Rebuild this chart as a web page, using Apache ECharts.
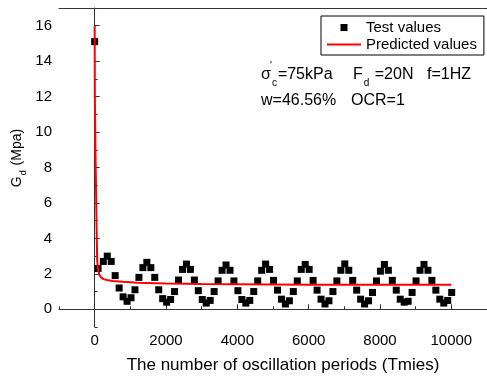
<!DOCTYPE html>
<html>
<head>
<meta charset="utf-8">
<script src="https://cdn.jsdelivr.net/npm/echarts@6/dist/echarts.min.js"></script>
<style>
  html, body { margin: 0; padding: 0; background: #fff; }
  #chart { width: 487px; height: 379px; }
</style>
</head>
<body>
<div id="chart"></div>
<script>
// Measured dynamic shear modulus (MPa) against number of loading cycles
const testCycles = [0, 95, 242, 353, 464, 575, 686, 797, 908, 1019, 1130,
  1241, 1352, 1463, 1574, 1685, 1796, 1907, 2018, 2129, 2240,
  2351, 2462, 2573, 2684, 2795, 2906, 3017, 3128, 3239, 3350,
  3461, 3572, 3683, 3794, 3905, 4016, 4127, 4238, 4349, 4460,
  4571, 4682, 4793, 4904, 5015, 5126, 5237, 5348, 5459, 5570,
  5681, 5792, 5903, 6014, 6125, 6236, 6347, 6458, 6569, 6680,
  6791, 6902, 7013, 7124, 7235, 7346, 7457, 7568, 7679, 7790,
  7901, 8012, 8123, 8234, 8345, 8456, 8567, 8678, 8789, 8900,
  9011, 9122, 9233, 9344, 9455, 9566, 9677, 9788, 9899, 10010];
const testModulus = [15.1, 2.3, 2.7, 3.0, 2.7, 1.9, 1.2, 0.7, 0.45, 0.65, 1.1,
  1.8, 2.35, 2.65, 2.35, 1.8, 1.1, 0.6, 0.4, 0.55, 1.0,
  1.65, 2.25, 2.55, 2.25, 1.65, 1.05, 0.55, 0.35, 0.5, 1.0,
  1.6, 2.2, 2.5, 2.2, 1.6, 1.05, 0.55, 0.35, 0.5, 1.0,
  1.6, 2.2, 2.55, 2.25, 1.63, 1.08, 0.57, 0.3, 0.48, 1.0,
  1.6, 2.25, 2.53, 2.25, 1.63, 1.08, 0.57, 0.3, 0.48, 1.0,
  1.6, 2.2, 2.56, 2.2, 1.63, 1.08, 0.57, 0.3, 0.48, 0.95,
  1.6, 2.15, 2.53, 2.2, 1.63, 1.08, 0.57, 0.4, 0.45, 0.95,
  1.6, 2.2, 2.53, 2.2, 1.63, 1.08, 0.57, 0.35, 0.5, 0.95];

// Fitted decay curve
const fitCycles = [0, 5, 12, 25, 40, 55, 70, 90, 130, 180, 250, 350, 500,
  800, 1200, 2000, 3000, 4000, 6000, 8000, 10000];
const fitModulus = [16.0, 12.0, 10.9, 8.5, 6.6, 4.5, 2.8, 2.3, 1.95, 1.8, 1.7, 1.65, 1.6,
  1.55, 1.5, 1.45, 1.42, 1.41, 1.39, 1.38, 1.38];

// Axis tick labels
const xLabelValues = [0, 2000, 4000, 6000, 8000, 10000];
const yLabelValues = [0, 2, 4, 6, 8, 10, 12, 14, 16];

const FONT = 'Arial, "Liberation Sans", sans-serif';
const AXIS_COLOR = '#333';

const chart = echarts.init(document.getElementById('chart'), null, { renderer: 'canvas' });

const toPairs = (xs, ys) => xs.map((x, i) => [x, ys[i]]);

chart.setOption({
  animation: false,
  backgroundColor: '#fff',
  grid: { left: 59, top: 8, right: -2, bottom: 50, containLabel: false },
  legend: {
    orient: 'vertical',
    left: 321,
    top: 16,
    borderColor: '#000',
    borderWidth: 1,
    borderRadius: 0,
    padding: [4, 7, 3, 6],
    itemWidth: 34,
    itemHeight: 7,
    itemGap: 2,
    textStyle: { fontFamily: FONT, fontSize: 15, color: '#000' },
    data: [
      { name: 'Test values', icon: 'path://M0,0h1v1h-1z' },
      { name: 'Predicted values', icon: 'path://M0,0h34v2h-34z' }
    ]
  },
  xAxis: [
    {
      type: 'value', min: -1000, max: 11000,
      axisLine: { show: true, lineStyle: { color: AXIS_COLOR, width: 1 } },
      axisTick: { show: true, inside: true, length: 5, customValues: xLabelValues, lineStyle: { color: AXIS_COLOR } },
      axisLabel: {
        customValues: xLabelValues, margin: 6, fontFamily: FONT, fontSize: 15, color: '#000',
        formatter: (v) => String(v)
      },
      splitLine: { show: false },
      name: 'The number of oscillation periods (Tmies)',
      nameLocation: 'middle',
      nameGap: 30,
      nameTextStyle: { fontFamily: FONT, fontSize: 17, color: '#000', padding: [0, 0, 0, 20] }
    },
    {
      // minor ticks every 1000 cycles
      type: 'value', min: -1000, max: 11000, interval: 1000, position: 'bottom',
      axisLine: { show: false },
      axisTick: { show: true, inside: true, length: 3, lineStyle: { color: AXIS_COLOR } },
      axisLabel: { show: false },
      splitLine: { show: false }
    },
    {
      // top frame
      type: 'value', min: -1000, max: 11000, position: 'top',
      axisLine: { show: true, lineStyle: { color: AXIS_COLOR, width: 1 } },
      axisTick: { show: false }, axisLabel: { show: false }, splitLine: { show: false }
    }
  ],
  yAxis: [
    {
      type: 'value', min: -1, max: 17,
      axisLine: { show: true, lineStyle: { color: AXIS_COLOR, width: 1 } },
      axisTick: { show: true, inside: true, length: 5, customValues: yLabelValues, lineStyle: { color: AXIS_COLOR } },
      axisLabel: { customValues: yLabelValues, margin: 7, fontFamily: FONT, fontSize: 15, color: '#000' },
      splitLine: { show: false }
    },
    {
      // minor ticks every 1 MPa
      type: 'value', min: -1, max: 17, interval: 1, position: 'left',
      axisLine: { show: false },
      axisTick: { show: true, inside: true, length: 3, lineStyle: { color: AXIS_COLOR } },
      axisLabel: { show: false },
      splitLine: { show: false }
    }
  ],
  series: [
    {
      name: 'Test values',
      type: 'scatter',
      data: toPairs(testCycles, testModulus),
      symbol: 'rect',
      symbolSize: 7,
      itemStyle: { color: '#000', opacity: 1 },
      z: 2
    },
    {
      name: 'Predicted values',
      type: 'line',
      data: toPairs(fitCycles, fitModulus),
      symbol: 'none',
      smooth: false,
      lineStyle: { color: '#ff0000', width: 2 },
      itemStyle: { color: '#ff0000' },
      z: 3
    }
  ],
  graphic: [
    {
      type: 'text', x: 17, y: 158, rotation: Math.PI / 2,
      style: {
        text: '{m|G}{s|d}{m| (Mpa)}',
        align: 'center', verticalAlign: 'middle',
        rich: {
          m: { fontFamily: FONT, fontSize: 14, color: '#000', lineHeight: 22 },
          s: { fontFamily: FONT, fontSize: 9, color: '#000', lineHeight: 10, verticalAlign: 'bottom', padding: [0, 1, 0, 1] }
        }
      }
    },
    {
      type: 'text', x: 261, y: 75,
      style: {
        text: '{m|σ}{s|c}{m|=75kPa}',
        align: 'left', verticalAlign: 'middle',
        rich: {
          m: { fontFamily: FONT, fontSize: 16, color: '#000', lineHeight: 26 },
          s: { fontFamily: FONT, fontSize: 10, color: '#000', lineHeight: 10, verticalAlign: 'bottom', padding: [0, 1, 0, 1] }
        }
      }
    },
    {
      type: 'text', x: 270, y: 66,
      style: { text: "'", fontFamily: FONT, fontSize: 10, fill: '#000', align: 'left', verticalAlign: 'middle' }
    },
    {
      type: 'text', x: 353, y: 75,
      style: {
        text: '{m|F}{s|d}{m| =20N}',
        align: 'left', verticalAlign: 'middle',
        rich: {
          m: { fontFamily: FONT, fontSize: 16, color: '#000', lineHeight: 26 },
          s: { fontFamily: FONT, fontSize: 10, color: '#000', lineHeight: 10, verticalAlign: 'bottom', padding: [0, 1, 0, 1] }
        }
      }
    },
    {
      type: 'text', x: 427, y: 75,
      style: { text: 'f=1HZ', fontFamily: FONT, fontSize: 16, fill: '#000', align: 'left', verticalAlign: 'middle' }
    },
    {
      type: 'text', x: 261, y: 101,
      style: { text: 'w=46.56%', fontFamily: FONT, fontSize: 16, fill: '#000', align: 'left', verticalAlign: 'middle' }
    },
    {
      type: 'text', x: 351, y: 101,
      style: { text: 'OCR=1', fontFamily: FONT, fontSize: 16, fill: '#000', align: 'left', verticalAlign: 'middle' }
    }
  ]
});
</script>
</body>
</html>
